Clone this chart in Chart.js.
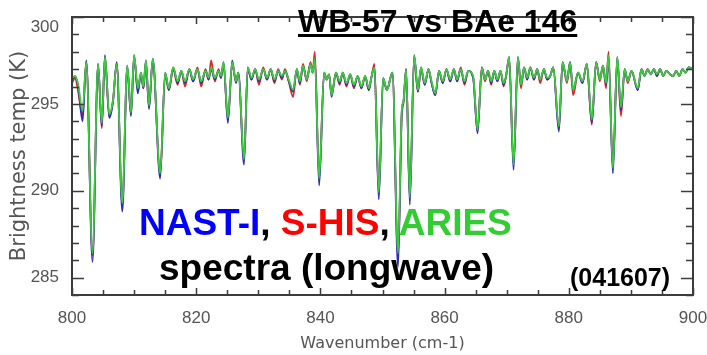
<!DOCTYPE html>
<html>
<head>
<meta charset="utf-8">
<script src="https://cdn.jsdelivr.net/npm/chart.js@4.4.0/dist/chart.umd.min.js"></script>
<style>
  html, body { margin: 0; padding: 0; background: #fff; }
  #wrap { position: relative; width: 707px; height: 355px; overflow: hidden; }
  #chart { position: absolute; left: 0; top: 0; }
  .note { position: absolute; white-space: nowrap; font-family: "Liberation Sans", Arial, sans-serif; font-weight: bold; line-height: 1; }
  #title { left: 298px; top: 5px; font-size: 32px; color: #000; text-decoration: underline; text-decoration-thickness: 3px; }
  #names { left: 139px; top: 204px; font-size: 37px; color: #000; }
  #kind { left: 159px; top: 249px; font-size: 37px; color: #000; }
  #date { left: 570px; top: 265px; font-size: 25px; color: #000; }
</style>
</head>
<body>
<div id="wrap">
  <canvas id="chart" width="707" height="355"></canvas>
  <div class="note" id="title">WB-57 vs BAe 146</div>
  <div class="note" id="names"><span style="color:#0000ff">NAST-I</span>, <span style="color:#ff0000">S-HIS</span>, <span style="color:#32cd32">ARIES</span></div>
  <div class="note" id="kind">spectra (longwave)</div>
  <div class="note" id="date">(041607)</div>
</div>
<script>
// Spektri svetlosne temperature (ocitano sa slike)
const wavenumber = [
  800.0, 800.5, 801.0, 801.7, 802.3, 803.3, 804.2, 804.8, 805.3, 806.0,
  806.6, 807.2, 808.1, 808.9, 809.5, 810.0, 810.6, 811.1, 811.5, 811.9,
  812.4, 813.0, 814.2, 815.0, 815.6, 816.3, 817.0, 817.6, 818.2, 818.9,
  819.5, 820.2, 820.8, 821.5, 822.0, 822.4, 823.0, 823.6, 824.0, 824.4,
  825.1, 825.8, 826.4, 826.8, 827.7, 828.3, 828.9, 829.5, 830.1, 830.8,
  831.4, 832.0, 832.6, 833.2, 833.8, 834.3, 834.9, 835.6, 836.2, 836.7,
  837.2, 837.8, 838.4, 838.75, 839.1, 839.8, 840.6, 841.0, 841.4, 841.8,
  842.5, 843.1, 843.6, 844.2, 844.8, 845.4, 846.0, 846.6, 847.2, 847.8,
  848.2, 848.7, 849.4, 850.1, 850.7, 851.6, 852.5, 853.1, 853.4, 853.8,
  854.4, 855.1, 855.7, 856.2, 856.8, 857.4, 857.9, 858.5, 859.1, 859.7,
  860.3, 860.9, 861.5, 862.0, 862.6, 863.2, 863.8, 864.6, 865.3, 866.0,
  866.5, 867.0, 867.5, 868.0, 868.5, 869.0, 869.5, 869.9, 870.4, 871.1,
  871.8, 872.3, 872.8, 873.3, 873.8, 874.4, 874.9, 875.4, 876.0, 876.5,
  877.0, 877.5, 878.4, 879.0, 879.7, 880.2, 880.7, 881.5, 882.2, 882.9,
  883.7, 884.4, 885.0, 885.5, 886.0, 886.4, 887.1, 887.8, 888.4, 889.0,
  889.5, 890.1, 891.1, 891.7, 892.2, 892.7, 893.2, 893.7, 894.2, 894.7,
  895.2, 895.7, 896.3, 896.8, 897.3, 897.8, 898.3, 898.8, 899.3, 900.0
];

const nastI = [
  296.4, 296.6, 296.0, 294.0, 297.5, 285.9, 297.3, 293.7, 297.8, 294.2,
  295.1, 297.4, 288.8, 297.2, 294.3, 297.8, 295.6, 296.8, 295.9, 297.5,
  294.7, 297.6, 290.7, 296.8, 295.8, 297.1, 296.2, 296.9, 296.2, 297.0,
  296.3, 297.0, 296.2, 296.9, 296.4, 297.0, 296.4, 296.9, 296.5, 297.4,
  293.9, 297.5, 296.2, 296.8, 291.5, 297.1, 296.4, 297.0, 296.3, 297.0,
  296.4, 297.0, 296.3, 296.9, 296.5, 296.9, 296.3, 295.7, 297.0, 296.2,
  297.2, 296.4, 297.3, 296.8, 297.6, 290.3, 296.8, 296.4, 296.7, 295.4,
  296.8, 296.2, 296.8, 296.1, 296.7, 296.0, 296.6, 295.9, 296.6, 295.8,
  296.5, 297.1, 289.5, 296.5, 295.8, 296.8, 285.6, 294.5, 295.2, 297.0,
  289.2, 297.8, 295.7, 297.1, 296.1, 297.0, 296.2, 295.5, 296.9, 296.2,
  297.0, 296.3, 297.0, 296.3, 297.0, 296.2, 296.9, 296.5, 293.3, 297.1,
  296.4, 296.9, 296.2, 296.9, 296.3, 296.9, 296.1, 296.6, 297.7, 291.2,
  297.7, 296.1, 297.1, 296.4, 297.1, 296.4, 297.0, 296.4, 297.0, 296.4,
  296.6, 297.1, 293.4, 297.4, 296.3, 297.4, 295.8, 296.8, 296.2, 297.3,
  293.9, 297.4, 296.4, 297.2, 296.1, 297.6, 291.0, 297.7, 294.6, 297.0,
  296.3, 296.9, 295.8, 297.0, 296.6, 297.0, 296.7, 297.0, 296.6, 297.0,
  296.6, 296.9, 296.7, 296.6, 296.9, 296.6, 297.0, 296.8, 297.1, 297.0
];

const sHis = [
  296.2, 296.5, 295.7, 294.3, 297.4, 286.3, 297.2, 293.6, 297.7, 294.3,
  295.2, 297.3, 289.2, 297.1, 294.4, 297.7, 295.8, 296.7, 295.9, 297.4,
  294.8, 297.5, 291.0, 296.7, 295.8, 297.0, 296.1, 296.9, 296.0, 297.0,
  296.3, 297.1, 296.0, 297.0, 296.4, 297.5, 296.3, 297.0, 296.5, 297.3,
  294.1, 297.3, 296.3, 296.8, 291.8, 297.0, 296.4, 297.0, 296.1, 297.1,
  296.4, 297.0, 296.2, 297.0, 296.4, 297.0, 296.3, 295.4, 297.0, 296.1,
  297.3, 296.3, 297.4, 296.8, 298.0, 290.7, 296.8, 296.4, 296.7, 295.5,
  296.8, 296.1, 296.8, 296.0, 296.7, 295.9, 296.6, 295.9, 296.6, 295.8,
  296.5, 297.3, 289.8, 296.4, 295.8, 296.8, 286.2, 294.3, 295.1, 297.0,
  289.6, 297.7, 295.7, 297.0, 296.1, 297.0, 296.2, 295.5, 296.9, 296.2,
  297.0, 296.3, 297.0, 296.3, 297.1, 296.1, 296.9, 296.5, 293.4, 297.1,
  296.3, 296.9, 296.1, 296.9, 296.3, 296.9, 296.0, 296.6, 297.6, 291.5,
  297.6, 295.9, 297.1, 296.4, 297.1, 296.4, 297.0, 296.2, 297.0, 296.4,
  296.6, 297.1, 293.6, 297.4, 296.2, 297.4, 295.5, 296.8, 296.2, 297.3,
  293.8, 297.4, 296.3, 297.2, 295.9, 298.0, 291.3, 297.6, 294.3, 297.0,
  296.2, 296.9, 295.8, 297.0, 296.6, 297.0, 296.7, 297.0, 296.6, 297.0,
  296.6, 296.9, 296.7, 296.6, 296.9, 296.6, 297.0, 296.8, 297.1, 297.0
];

const aries = [
  296.5, 296.6, 296.1, 294.6, 297.4, 286.4, 297.3, 293.9, 297.7, 294.4,
  295.2, 297.3, 289.3, 297.2, 294.5, 297.8, 295.9, 296.8, 296.0, 297.5,
  294.9, 297.6, 291.0, 296.8, 295.9, 297.1, 296.3, 296.9, 296.3, 297.0,
  296.4, 297.0, 296.3, 296.9, 296.5, 297.1, 296.5, 296.9, 296.6, 297.4,
  294.2, 297.4, 296.3, 296.8, 291.8, 297.1, 296.5, 297.0, 296.4, 297.0,
  296.5, 297.0, 296.4, 296.9, 296.6, 296.9, 296.4, 295.8, 297.0, 296.3,
  297.2, 296.4, 297.3, 296.8, 297.6, 290.7, 296.8, 296.4, 296.7, 295.5,
  296.8, 296.3, 296.8, 296.2, 296.7, 296.1, 296.6, 296.0, 296.6, 295.9,
  296.5, 297.1, 289.9, 296.5, 295.8, 296.8, 286.4, 294.6, 295.2, 297.0,
  289.6, 297.8, 295.8, 297.1, 296.2, 297.0, 296.3, 295.6, 296.9, 296.3,
  297.0, 296.4, 297.0, 296.4, 297.0, 296.3, 296.9, 296.6, 293.5, 297.1,
  296.4, 296.9, 296.3, 296.9, 296.4, 296.9, 296.2, 296.6, 297.7, 291.5,
  297.7, 296.1, 297.1, 296.5, 297.1, 296.5, 297.0, 296.4, 297.0, 296.5,
  296.6, 297.1, 293.7, 297.4, 296.3, 297.4, 295.8, 296.8, 296.3, 297.3,
  294.1, 297.4, 296.4, 297.2, 296.2, 297.8, 291.3, 297.7, 294.8, 297.0,
  296.3, 296.9, 295.9, 297.0, 296.6, 297.0, 296.7, 297.0, 296.7, 297.0,
  296.6, 296.9, 296.7, 296.6, 296.9, 296.6, 297.0, 296.8, 297.1, 297.0
];

// Oznake na osama
const xTicks = [800, 820, 840, 860, 880, 900];
const yTicks = [285, 290, 295, 300];
const xMinorStep = 5;
const yMinorStep = 1;

// Pretvara niz vrednosti u tacke {x, y}
function toPoints(values) {
    return wavenumber.map((w, i) => ({ x: w, y: values[i] }));
}

// Okvir i unutrasnje crtice kao u IDL grafiku
const framePlugin = {
    id: 'frame',
    afterDatasetsDraw(chart) {
        const { ctx, chartArea: a, scales: { x, y } } = chart;
        ctx.save();
        ctx.strokeStyle = '#3c3c3c';
        ctx.lineWidth = 1.5;
        ctx.beginPath();
        for (let v = x.min; v <= x.max; v += xMinorStep) {
            const px = Math.round(x.getPixelForValue(v)) + 0.5;
            const len = v % 20 === 0 ? 7 : 5;
            ctx.moveTo(px, a.bottom); ctx.lineTo(px, a.bottom - len);
            ctx.moveTo(px, a.top); ctx.lineTo(px, a.top + len);
        }
        for (let v = y.min; v <= y.max; v += yMinorStep) {
            const py = Math.round(y.getPixelForValue(v)) + 0.5;
            const len = v % 5 === 0 ? 12 : 7;
            ctx.moveTo(a.left, py); ctx.lineTo(a.left + len, py);
            ctx.moveTo(a.right, py); ctx.lineTo(a.right - len, py);
        }
        ctx.stroke();
        ctx.lineWidth = 2;
        ctx.strokeRect(a.left, a.top, a.right - a.left, a.bottom - a.top);
        ctx.restore();
    }
};

const tickFont = { family: '"Liberation Sans", Arial, sans-serif', size: 17 };

new Chart(document.getElementById('chart').getContext('2d'), {
    type: 'line',
    data: {
        datasets: [
            { label: 'NAST-I', data: toPoints(nastI), borderColor: '#2b2bb8', order: 1 },
            { label: 'S-HIS', data: toPoints(sHis), borderColor: '#e02424', order: 2 },
            { label: 'ARIES', data: toPoints(aries), borderColor: '#3ccc3c', order: 0 }
        ]
    },
    options: {
        responsive: false,
        animation: false,
        layout: { padding: { left: 0, right: 14, top: 17, bottom: 0 } },
        elements: {
            point: { radius: 0 },
            line: { borderWidth: 1.8, cubicInterpolationMode: 'monotone', fill: false }
        },
        plugins: {
            legend: { display: false },
            tooltip: { enabled: false }
        },
        scales: {
            x: {
                type: 'linear',
                min: 800,
                max: 900,
                afterBuildTicks: s => { s.ticks = xTicks.map(v => ({ value: v })); },
                afterFit: s => { s.height = 60; s.paddingLeft = 0; s.paddingRight = 0; },
                grid: { display: false },
                border: { display: false },
                ticks: { padding: 5, maxRotation: 0, color: '#555', font: tickFont },
                title: {
                    display: true,
                    text: 'Wavenumber (cm-1)',
                    color: '#555',
                    padding: { top: 0, bottom: 2 },
                    font: { family: '"DejaVu Sans", sans-serif', size: 16 }
                }
            },
            y: {
                type: 'linear',
                min: 284,
                max: 300,
                afterBuildTicks: s => { s.ticks = yTicks.map(v => ({ value: v })); },
                afterFit: s => { s.width = 72; s.paddingTop = 0; s.paddingBottom = 0; },
                grid: { display: false },
                border: { display: false },
                ticks: {
                    padding: 5,
                    color: '#555',
                    font: tickFont,
                    callback: v => v === 300 ? ['', '300'] : String(v)
                },
                title: {
                    display: true,
                    text: 'Brightness temp (K)',
                    color: '#555',
                    padding: { top: 7, bottom: 0 },
                    font: { family: '"DejaVu Sans", sans-serif', size: 21 }
                }
            }
        }
    },
    plugins: [framePlugin]
});
</script>
</body>
</html>
